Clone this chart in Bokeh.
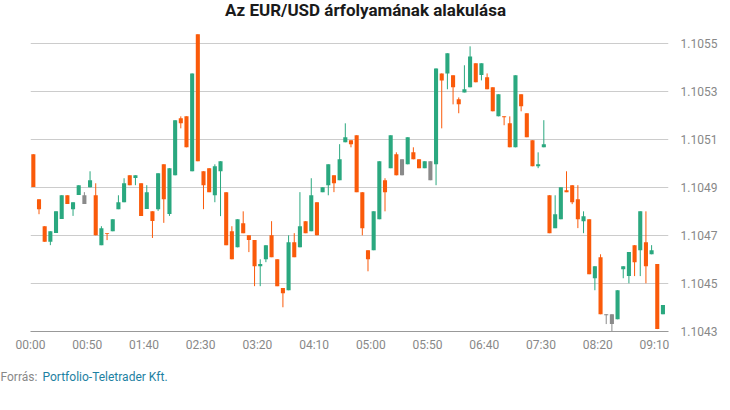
from bokeh.plotting import figure
from bokeh.models import Range1d, FixedTicker, Label, ColumnDataSource
from bokeh.embed import file_html
from bokeh.resources import INLINE

# ---- data (EUR/USD, 5-minute candles from 00:00) ----
open_ = [1.105039, 1.104851, 1.104739, 1.104674, 1.104711, 1.104769, 1.104868, 1.104810, 1.104869, 1.104868,
         1.104901, 1.104868, 1.104660, 1.104710, 1.104718, 1.104810, 1.104839, 1.104951, 1.104940, 1.104918,
         1.104811, 1.104801, 1.104810, 1.104997, 1.104790, 1.104951, 1.105189, 1.105197, 1.104968, 1.105539,
         1.104968, 1.104981, 1.104868, 1.104968, 1.104881, 1.104718, 1.104651, 1.104751, 1.104701, 1.104681,
         1.104572, 1.104601, 1.104701, 1.104601, 1.104481, 1.104472, 1.104672, 1.104651, 1.104760, 1.104718,
         1.104839, 1.104881, 1.104910, 1.104951, 1.104931, 1.105089, 1.105097, 1.105118, 1.104881, 1.104639,
         1.104639, 1.104768, 1.104931, 1.104981, 1.105039, 1.105018, 1.104997, 1.105047, 1.105018, 1.104981,
         1.105010, 1.104997, 1.105376, 1.105376, 1.105368, 1.105268, 1.105297, 1.105318, 1.105418, 1.105369,
         1.105360, 1.105318, 1.105197, 1.105197, 1.105168, 1.105068, 1.105289, 1.105210, 1.105097, 1.104989,
         1.105068, 1.104868, 1.104731, 1.104768, 1.104889, 1.104910, 1.104851, 1.104760, 1.104768, 1.104522,
         1.104610, 1.104372, 1.104372, 1.104351, 1.104560, 1.104531, 1.104660, 1.104639, 1.104672, 1.104622,
         1.104581, 1.104372]
high = [1.105039, 1.104851, 1.104739, 1.104718, 1.104801, 1.104868, 1.104868, 1.104839, 1.104910, 1.104881,
        1.104968, 1.104918, 1.104739, 1.104710, 1.104768, 1.104868, 1.104939, 1.104951, 1.104951, 1.104918,
        1.104910, 1.104801, 1.104960, 1.104997, 1.104981, 1.105181, 1.105197, 1.105197, 1.105376, 1.105539,
        1.104968, 1.104981, 1.104997, 1.105010, 1.104881, 1.104739, 1.104768, 1.104801, 1.104701, 1.104681,
        1.104601, 1.104660, 1.104760, 1.104601, 1.104481, 1.104701, 1.104710, 1.104881, 1.104760, 1.104939,
        1.104839, 1.104901, 1.104997, 1.104951, 1.105081, 1.105168, 1.105097, 1.105118, 1.104881, 1.104639,
        1.104801, 1.105010, 1.104939, 1.105118, 1.105047, 1.105018, 1.105110, 1.105068, 1.105018, 1.105010,
        1.105010, 1.105397, 1.105376, 1.105460, 1.105368, 1.105276, 1.105410, 1.105489, 1.105418, 1.105418,
        1.105376, 1.105318, 1.105289, 1.105197, 1.105197, 1.105368, 1.105289, 1.105210, 1.105097, 1.105047,
        1.105181, 1.104868, 1.104868, 1.104901, 1.104968, 1.104910, 1.104910, 1.104801, 1.104768, 1.104572,
        1.104622, 1.104372, 1.104372, 1.104472, 1.104572, 1.104631, 1.104660, 1.104801, 1.104801, 1.104660,
        1.104581, 1.104410]
low = [1.104903, 1.104789, 1.104674, 1.104660, 1.104711, 1.104769, 1.104832, 1.104782, 1.104869, 1.104832,
       1.104901, 1.104701, 1.104660, 1.104681, 1.104718, 1.104810, 1.104839, 1.104910, 1.104910, 1.104782,
       1.104811, 1.104690, 1.104803, 1.104753, 1.104782, 1.104951, 1.105147, 1.105068, 1.104968, 1.105010,
       1.104810, 1.104881, 1.104839, 1.104781, 1.104660, 1.104601, 1.104651, 1.104710, 1.104631, 1.104489,
       1.104489, 1.104589, 1.104610, 1.104489, 1.104401, 1.104472, 1.104610, 1.104651, 1.104710, 1.104718,
       1.104701, 1.104881, 1.104868, 1.104881, 1.104931, 1.105089, 1.105068, 1.104881, 1.104701, 1.104551,
       1.104639, 1.104768, 1.104801, 1.104981, 1.104951, 1.104951, 1.104997, 1.105018, 1.104981, 1.104981,
       1.104931, 1.104910, 1.105147, 1.105310, 1.105247, 1.105210, 1.105297, 1.105318, 1.105339, 1.105347,
       1.105310, 1.105218, 1.105197, 1.105160, 1.105068, 1.105068, 1.105218, 1.105110, 1.104989, 1.104981,
       1.105068, 1.104710, 1.104731, 1.104768, 1.104881, 1.104831, 1.104731, 1.104710, 1.104539, 1.104472,
       1.104372, 1.104331, 1.104300, 1.104351, 1.104522, 1.104501, 1.104531, 1.104531, 1.104501, 1.104622,
       1.104310, 1.104372]
close = [1.104903, 1.104810, 1.104674, 1.104718, 1.104801, 1.104868, 1.104832, 1.104839, 1.104910, 1.104832,
         1.104931, 1.104701, 1.104731, 1.104706, 1.104768, 1.104839, 1.104918, 1.104910, 1.104951, 1.104782,
         1.104881, 1.104761, 1.104960, 1.104851, 1.104981, 1.105181, 1.105168, 1.105068, 1.105376, 1.105010,
         1.104910, 1.104881, 1.104989, 1.105010, 1.104660, 1.104601, 1.104768, 1.104710, 1.104681, 1.104572,
         1.104581, 1.104660, 1.104610, 1.104489, 1.104460, 1.104672, 1.104610, 1.104739, 1.104710, 1.104868,
         1.104701, 1.104901, 1.104997, 1.104918, 1.105018, 1.105110, 1.105081, 1.104881, 1.104731, 1.104601,
         1.104801, 1.105010, 1.104881, 1.105118, 1.104951, 1.104951, 1.105110, 1.105018, 1.104981, 1.105010,
         1.104931, 1.105397, 1.105347, 1.105460, 1.105318, 1.105247, 1.105310, 1.105447, 1.105339, 1.105418,
         1.105310, 1.105218, 1.105289, 1.105193, 1.105068, 1.105368, 1.105239, 1.105110, 1.104989, 1.104997,
         1.105081, 1.104710, 1.104789, 1.104901, 1.104881, 1.104839, 1.104768, 1.104781, 1.104539, 1.104572,
         1.104372, 1.104368, 1.104331, 1.104472, 1.104572, 1.104631, 1.104589, 1.104801, 1.104572, 1.104639,
         1.104310, 1.104410]
neutral_idx = [9, 65, 70, 101, 102]   # grey candles
interval_min = 5
x_tick_labels = ["00:00", "00:50", "01:40", "02:30", "03:20", "04:10",
                 "05:00", "05:50", "06:40", "07:30", "08:20", "09:10"]
x_tick_step_min = 50
y_ticks = [1.1043, 1.1045, 1.1047, 1.1049, 1.1051, 1.1053, 1.1055]
y_labels = ["1.1043", "1.1045", "1.1047", "1.1049", "1.1051", "1.1053", "1.1055"]
title_text = "Az EUR/USD árfolyamának alakulása"
source_label = "Forrás: "
source_name = "Portfolio-Teletrader Kft."

UP, DOWN, NEUTRAL = "#2aa87f", "#fa5a0a", "#8a8a8a"
FONT = "Roboto"

n = len(open_)
t = [interval_min * i + interval_min / 2 for i in range(n)]
colors = []
for i in range(n):
    if i in neutral_idx:
        colors.append(NEUTRAL)
    elif close[i] >= open_[i]:
        colors.append(UP)
    else:
        colors.append(DOWN)
top = [max(o, c) for o, c in zip(open_, close)]
bottom = [min(o, c) for o, c in zip(open_, close)]
top = [tp if tp - bt > 4e-6 else bt + 4e-6 for tp, bt in zip(top, bottom)]

src = ColumnDataSource(dict(t=t, high=high, low=low, top=top, bottom=bottom, color=colors))

W, H = 730, 410
ML, MR, MT, MB = 30, 62, 30, 79
Y0, Y1 = 1.1043, 1.105555
X0, X1 = 0, 562.4
p = figure(width=W, height=H, output_backend="svg", toolbar_location=None,
           x_range=Range1d(X0, X1), y_range=Range1d(Y0, Y1),
           y_axis_location="right", min_border_left=ML, min_border_right=MR,
           min_border_top=MT, min_border_bottom=MB)
p.outline_line_color = None
p.background_fill_color = "white"
p.border_fill_color = "white"

p.segment(x0="t", y0="low", x1="t", y1="high", line_color="color", line_width=1, source=src)
p.vbar(x="t", width=3.6, top="top", bottom="bottom", fill_color="color", line_color=None, source=src)

p.xgrid.grid_line_color = None
p.ygrid.grid_line_color = "#cccccc"
p.ygrid.grid_line_width = 1

p.yaxis.ticker = FixedTicker(ticks=y_ticks)
p.yaxis.major_label_overrides = {tk: lb for tk, lb in zip(y_ticks, y_labels)}
p.yaxis.axis_line_color = None
p.yaxis.major_tick_line_color = None
p.yaxis.minor_tick_line_color = None
p.yaxis.major_label_standoff = 6
p.yaxis.major_label_text_font = FONT
p.yaxis.major_label_text_font_size = "12px"
p.yaxis.major_label_text_color = "#888888"

xt = [x_tick_step_min * k for k in range(len(x_tick_labels))]
p.xaxis.ticker = FixedTicker(ticks=xt)
p.xaxis.major_label_overrides = {tk: lb for tk, lb in zip(xt, x_tick_labels)}
p.xaxis.axis_line_color = "#999999"
p.xaxis.major_tick_line_color = None
p.xaxis.minor_tick_line_color = None
p.xaxis.major_label_standoff = 0
p.xaxis.major_label_text_font = FONT
p.xaxis.major_label_text_font_size = "12px"
p.xaxis.major_label_text_color = "#888888"

# pixel -> data helpers for placing texts outside the frame
fw = W - ML - MR
fh = H - MT - MB
px_x = (X1 - X0) / fw
px_y = (Y1 - Y0) / fh

def cx(px):  # canvas x pixel -> data x
    return X0 + (px - ML) * px_x

def cy(py):  # canvas y pixel (from top) -> data y
    return Y1 - (py - MT) * px_y

p.add_layout(Label(x=cx(365), y=cy(9), text=title_text,
                   text_align="center", text_baseline="alphabetic",
                   text_font=FONT, text_font_size="17px", text_font_style="bold",
                   text_color="#1a1a1a"), "above")
p.add_layout(Label(x=cx(0), y=cy(376), text=source_label,
                   text_align="left", text_baseline="middle",
                   text_font=FONT, text_font_size="12px", text_color="#888888"), "below")
p.add_layout(Label(x=cx(42), y=cy(376), text=source_name,
                   text_align="left", text_baseline="middle",
                   text_font=FONT, text_font_size="12px", text_color="#1d81a2"), "below")

open("out.html", "w").write(file_html(p, INLINE))
